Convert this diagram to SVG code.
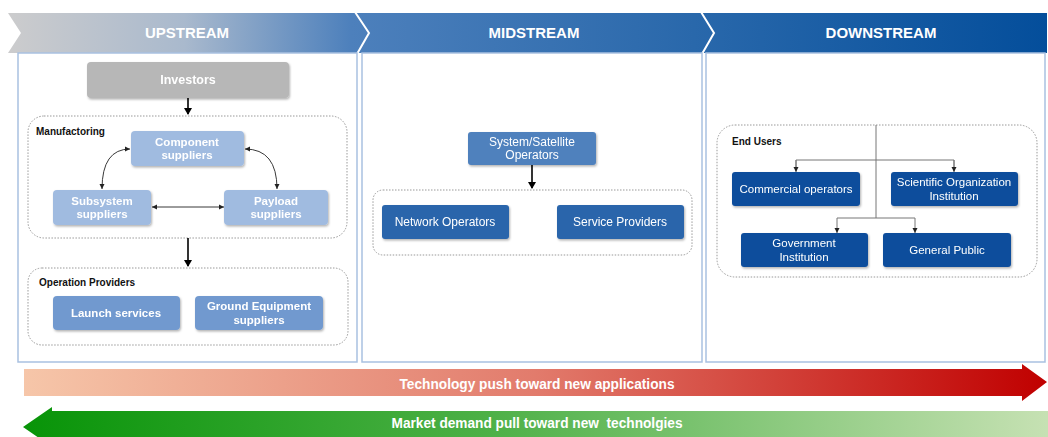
<svg xmlns="http://www.w3.org/2000/svg" width="1048" height="437" viewBox="0 0 1048 437">
<defs>
<linearGradient id="band" gradientUnits="userSpaceOnUse" x1="8" y1="0" x2="1047" y2="0">
<stop offset="0" stop-color="#cccccd"/>
<stop offset="0.17" stop-color="#a9b9cd"/>
<stop offset="0.33" stop-color="#4d80bc"/>
<stop offset="0.66" stop-color="#2968ab"/>
<stop offset="1" stop-color="#044e9b"/>
</linearGradient>
<linearGradient id="red" gradientUnits="userSpaceOnUse" x1="24" y1="0" x2="1047" y2="0">
<stop offset="0" stop-color="#f6c6a9"/>
<stop offset="0.5" stop-color="#e27b6c"/>
<stop offset="1" stop-color="#c00000"/>
</linearGradient>
<linearGradient id="green" gradientUnits="userSpaceOnUse" x1="24" y1="0" x2="1047" y2="0">
<stop offset="0" stop-color="#089408"/>
<stop offset="0.45" stop-color="#4cb046"/>
<stop offset="1" stop-color="#c6e1b3"/>
</linearGradient>
<filter id="sh" x="-10%" y="-10%" width="130%" height="140%">
<feDropShadow dx="1" dy="1.5" stdDeviation="1" flood-color="#000" flood-opacity="0.3"/>
</filter>
<marker id="big" markerWidth="8" markerHeight="8" refX="6" refY="4" orient="auto" markerUnits="userSpaceOnUse">
<path d="M0,0 L7,4 L0,8 Z" fill="#000"/>
</marker>
<marker id="sm" markerWidth="6" markerHeight="6" refX="5" refY="3" orient="auto-start-reverse" markerUnits="userSpaceOnUse">
<path d="M0,0.5 L5,3 L0,5.5 Z" fill="#222"/>
</marker>
</defs>
<style>
.hdr{font-family:"Liberation Sans",Arial,sans-serif;font-weight:bold;font-size:15px;fill:#fff;text-anchor:middle}
.panel{fill:#fff;stroke:#a9c1e1;stroke-width:1.5}
.grp{fill:#fff;stroke:#999;stroke-width:1;stroke-dasharray:1.5 1.5}
.lbl{font-family:"Liberation Sans",Arial,sans-serif;font-weight:bold;font-size:10px;fill:#111}
.bt{font-family:"Liberation Sans",Arial,sans-serif;font-weight:bold;font-size:11.5px;fill:#fff;text-anchor:middle}
.nt{font-family:"Liberation Sans",Arial,sans-serif;font-size:12px;fill:#fff;text-anchor:middle}
.dt{font-family:"Liberation Sans",Arial,sans-serif;font-size:11.5px;fill:#fff;text-anchor:middle}
.inv{fill:#b7b7b7}
.lt{fill:#a0bbe0}
.md{fill:#7199cf}
.m1{fill:#4f81bd}
.m2{fill:#2a65ab}
.d1{fill:#0d4e9c}
.ln{fill:none;stroke:#222;stroke-width:0.9}
.thick{fill:none;stroke:#000;stroke-width:1.6}
.tree{fill:none;stroke:#777;stroke-width:1}
.arr{font-family:"Liberation Sans Narrow","Liberation Sans",Arial,sans-serif;font-weight:bold;font-size:14px;fill:#fff;text-anchor:middle;white-space:pre}
</style>

<!-- header band -->
<g id="header">
<polygon points="8,13 1047,13 1047,53 8,53 21,33" fill="url(#band)"/>
<polyline points="355,12 369,33 357,54" fill="none" stroke="#fff" stroke-width="2"/>
<polyline points="701,12 714,33 702,54" fill="none" stroke="#fff" stroke-width="2"/>
<text class="hdr" x="187" y="38">UPSTREAM</text>
<text class="hdr" x="534" y="38">MIDSTREAM</text>
<text class="hdr" x="881" y="38">DOWNSTREAM</text>
</g>

<!-- panels -->
<g id="panels">
<rect class="panel" x="18" y="53" width="339" height="309"/>
<rect class="panel" x="362" y="53" width="340" height="309"/>
<rect class="panel" x="706" y="53" width="339" height="309"/>
</g>

<!-- groups -->
<g id="manufactoring">
<rect class="grp" x="28" y="116" width="319" height="122" rx="16"/>
<text class="lbl" x="36" y="135">Manufactoring</text>
</g>
<g id="operation-providers">
<rect class="grp" x="28" y="268" width="320" height="77" rx="14"/>
<text class="lbl" x="39" y="286">Operation Providers</text>
</g>
<g id="mid-group">
<rect class="grp" x="373" y="190" width="319" height="65" rx="10"/>
</g>
<g id="end-users">
<rect class="grp" x="717" y="125" width="320" height="152" rx="18"/>
<text class="lbl" x="732" y="145">End Users</text>
</g>

<!-- connectors -->
<g id="connectors">
<line class="thick" x1="188" y1="98" x2="188" y2="114" marker-end="url(#big)"/>
<line class="thick" x1="188" y1="238" x2="188" y2="266" marker-end="url(#big)"/>
<line class="thick" x1="532" y1="165" x2="532" y2="188" marker-end="url(#big)"/>
<path class="ln" d="M130,149 Q102,149 102,189" marker-start="url(#sm)" marker-end="url(#sm)"/>
<path class="ln" d="M245,149 Q277,149 277,189" marker-start="url(#sm)" marker-end="url(#sm)"/>
<line class="ln" x1="152" y1="207" x2="224" y2="207" marker-start="url(#sm)" marker-end="url(#sm)"/>
<line class="tree" x1="876" y1="125" x2="876" y2="218"/>
<polyline class="tree" points="796,171 796,160 954,160 954,171" />
<line class="tree" x1="796" y1="160" x2="796" y2="172" marker-end="url(#sm)"/>
<line class="tree" x1="954" y1="160" x2="954" y2="172" marker-end="url(#sm)"/>
<polyline class="tree" points="837,218 915,218"/>
<line class="tree" x1="837" y1="218" x2="837" y2="233" marker-end="url(#sm)"/>
<line class="tree" x1="915" y1="218" x2="915" y2="233" marker-end="url(#sm)"/>
</g>

<!-- upstream nodes -->
<g id="investors" filter="url(#sh)">
<rect class="inv" x="87" y="62" width="202" height="36" rx="4"/>
<text class="bt" x="188" y="84" fill="#f4f4f4" style="font-size:12.5px">Investors</text>
</g>
<g id="component" filter="url(#sh)">
<rect class="lt" x="131" y="131" width="113" height="35" rx="4"/>
<text class="bt" x="187" y="146">Component</text>
<text class="bt" x="187" y="159">suppliers</text>
</g>
<g id="subsystem" filter="url(#sh)">
<rect class="lt" x="53" y="190" width="98" height="35" rx="4"/>
<text class="bt" x="102" y="205">Subsystem</text>
<text class="bt" x="102" y="218">suppliers</text>
</g>
<g id="payload" filter="url(#sh)">
<rect class="lt" x="224" y="190" width="104" height="35" rx="4"/>
<text class="bt" x="276" y="205">Payload</text>
<text class="bt" x="276" y="218">suppliers</text>
</g>
<g id="launch" filter="url(#sh)">
<rect class="md" x="53" y="296" width="127" height="34" rx="4"/>
<text class="bt" x="116" y="317">Launch services</text>
</g>
<g id="ground" filter="url(#sh)">
<rect class="md" x="195" y="296" width="128" height="34" rx="4"/>
<text class="bt" x="259" y="310">Ground Equipment</text>
<text class="bt" x="259" y="324">suppliers</text>
</g>

<!-- midstream nodes -->
<g id="satellite" filter="url(#sh)">
<rect class="m1" x="468" y="132" width="128" height="33" rx="3"/>
<text class="nt" x="532" y="146">System/Satellite</text>
<text class="nt" x="532" y="159">Operators</text>
</g>
<g id="network" filter="url(#sh)">
<rect class="m2" x="382" y="205" width="127" height="34" rx="3"/>
<text class="nt" x="445" y="226">Network Operators</text>
</g>
<g id="service" filter="url(#sh)">
<rect class="m2" x="557" y="205" width="127" height="34" rx="3"/>
<text class="nt" x="620" y="226">Service Providers</text>
</g>

<!-- downstream nodes -->
<g id="commercial" filter="url(#sh)">
<rect class="d1" x="732" y="172" width="128" height="34" rx="3"/>
<text class="dt" x="796" y="193">Commercial operators</text>
</g>
<g id="scientific" filter="url(#sh)">
<rect class="d1" x="891" y="172" width="127" height="34" rx="3"/>
<text class="dt" x="954" y="186">Scientific Organization</text>
<text class="dt" x="954" y="200">Institution</text>
</g>
<g id="government" filter="url(#sh)">
<rect class="d1" x="741" y="233" width="127" height="34" rx="3"/>
<text class="dt" x="804" y="247">Government</text>
<text class="dt" x="804" y="261">Institution</text>
</g>
<g id="public" filter="url(#sh)">
<rect class="d1" x="883" y="233" width="128" height="34" rx="3"/>
<text class="dt" x="947" y="254">General Public</text>
</g>

<!-- bottom arrows -->
<g id="push">
<polygon points="24,369 1022,369 1022,364 1047,382 1022,401 1022,396 24,396" fill="url(#red)"/>
<text class="arr" x="537" y="389" textLength="275" lengthAdjust="spacingAndGlyphs">Technology push toward new applications</text>
</g>
<g id="pull">
<polygon points="1048,411 52,411 52,407 23,427 52,447 52,443 1048,443" fill="url(#green)"/>
<text class="arr" x="537" y="428" textLength="291" lengthAdjust="spacingAndGlyphs" xml:space="preserve">Market demand pull toward new  technolgies</text>
</g>
</svg>
